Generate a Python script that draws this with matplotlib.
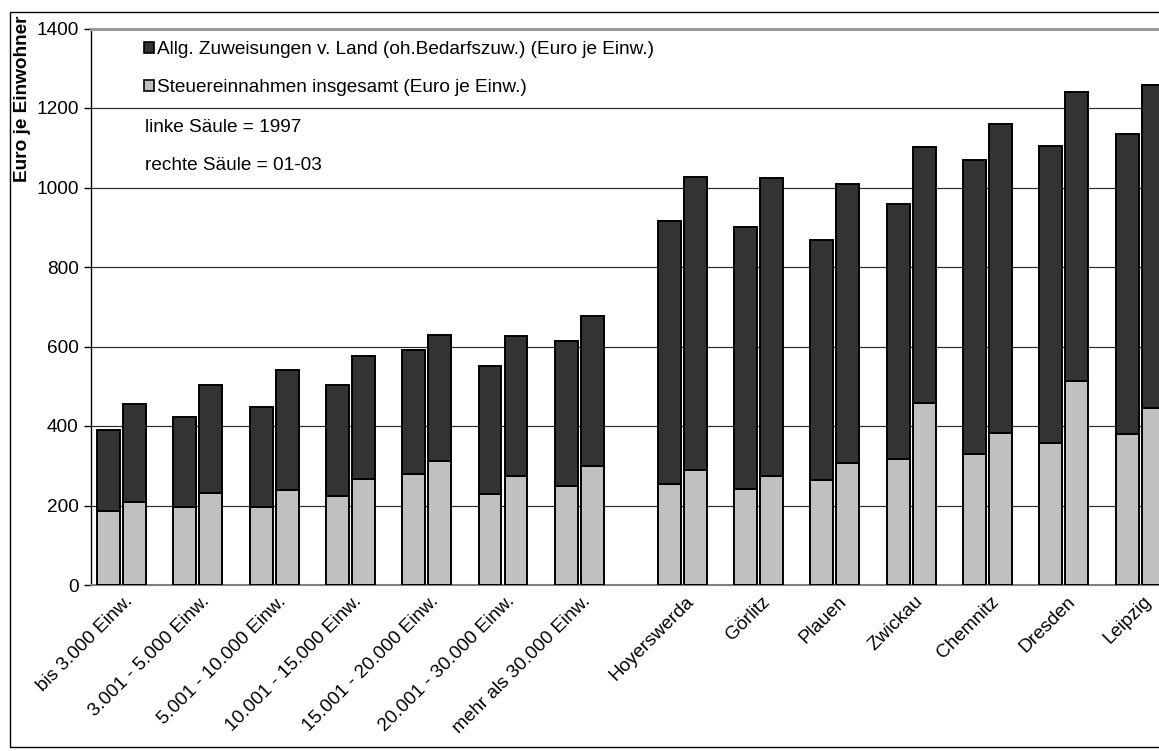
import numpy as np
import matplotlib
matplotlib.use("Agg")
import matplotlib.pyplot as plt
from matplotlib.patches import Patch, Rectangle
from matplotlib.transforms import ScaledTranslation

plt.rcParams["font.family"] = ["Liberation Sans", "DejaVu Sans"]

categories = ["bis 3.000 Einw.", "3.001 - 5.000 Einw.", "5.001 - 10.000 Einw.",
              "10.001 - 15.000 Einw.", "15.001 - 20.000 Einw.", "20.001 - 30.000 Einw.",
              "mehr als 30.000 Einw.", "Hoyerswerda", "Görlitz", "Plauen", "Zwickau",
              "Chemnitz", "Dresden", "Leipzig"]

# Euro je Einwohner, linke Säule = 1997
steuer_1997 = [187, 197, 195, 224, 278, 229, 249, 253, 241, 263, 318, 330, 358, 379]
zuweis_1997 = [204, 225, 253, 278, 313, 322, 366, 663, 660, 604, 641, 740, 746, 756]
# Euro je Einwohner, rechte Säule = 01-03
steuer_0103 = [209, 231, 238, 266, 312, 275, 300, 289, 274, 308, 458, 383, 512, 445]
zuweis_0103 = [246, 271, 302, 310, 318, 352, 377, 738, 750, 700, 644, 777, 728, 814]

label_zuweis = "Allg. Zuweisungen v. Land (oh.Bedarfszuw.) (Euro je Einw.)"
label_steuer = "Steuereinnahmen insgesamt (Euro je Einw.)"

DARK = "#333333"
LIGHT = "#c0c0c0"
FS = 13.7

W, H = 1159, 751
fig = plt.figure(figsize=(W / 100, H / 100), dpi=100)
fig.patch.set_facecolor("white")

# plot area in pixels (extends slightly past the right edge)
left_px, right_px, top_px, bottom_px = 91, 1186, 28.5, 585
ax = fig.add_axes([left_px / W, (H - bottom_px) / H,
                   (right_px - left_px) / W, (bottom_px - top_px) / H])

# size classes, then a wider gap before the cities
x = np.r_[np.arange(7), np.arange(7) + 7.35]
step_px = 76.3
first_px = 121.5
ax.set_xlim((left_px - first_px) / step_px, (right_px - first_px) / step_px)
ax.set_ylim(0, 1400)

w = 0.30
off = 0.17
edge = dict(edgecolor="black", linewidth=1.4)
ax.bar(x - off, steuer_1997, w, color=LIGHT, **edge, zorder=3)
ax.bar(x - off, zuweis_1997, w, bottom=steuer_1997, color=DARK, **edge, zorder=3)
ax.bar(x + off, steuer_0103, w, color=LIGHT, **edge, zorder=3)
ax.bar(x + off, zuweis_0103, w, bottom=steuer_0103, color=DARK, **edge, zorder=3)

# gridlines and frame
ax.set_yticks(np.arange(0, 1401, 200))
ax.yaxis.grid(True, color="#2a2a2a", linewidth=0.85, zorder=0)
ax.set_axisbelow(True)
ax.spines["right"].set_visible(False)
ax.spines["top"].set_color("#999999")
ax.spines["top"].set_linewidth(2.2)
ax.spines["bottom"].set_color("#808080")
ax.spines["bottom"].set_linewidth(1.5)
ax.spines["left"].set_color("black")
ax.spines["left"].set_linewidth(1.0)

ax.tick_params(axis="y", direction="out", length=5, width=1, pad=4,
               labelsize=FS, colors="black")
ax.tick_params(axis="x", length=0, pad=10, labelsize=FS)

ax.set_xticks(x)
ax.set_xticklabels(categories, rotation=45, ha="right", va="center",
                   rotation_mode="anchor")
shift = ScaledTranslation(9 / 100, 0, fig.dpi_scale_trans)
for lab in ax.get_xticklabels():
    lab.set_transform(lab.get_transform() + shift)

# axis title at the top left
fig.text(23 / W, 1 - 15 / H, "Euro je Einwohner", rotation=90, ha="center",
         va="top", fontsize=FS, fontweight="bold")

# legend and notes
handles = [Patch(facecolor=DARK, edgecolor="black", linewidth=1.2),
           Patch(facecolor=LIGHT, edgecolor="black", linewidth=1.2)]
ax.legend(handles, [label_zuweis, label_steuer], loc="upper left",
          bbox_to_anchor=(144 / W, 1 - 41 / H), bbox_transform=fig.transFigure,
          frameon=False, fontsize=FS, handlelength=0.55, handleheight=0.55,
          handletextpad=0.15, labelspacing=1.12, borderpad=0, borderaxespad=0)
fig.text(145 / W, 1 - 127 / H, "linke Säule = 1997", ha="left", va="center",
         fontsize=FS)
fig.text(145 / W, 1 - 165 / H, "rechte Säule = 01-03", ha="left", va="center",
         fontsize=FS)

# chart area border
fig.add_artist(Rectangle((10 / W, (H - 747) / H), (1180 - 10) / W, (747 - 12) / H,
                         transform=fig.transFigure, fill=False,
                         edgecolor="black", linewidth=1.0))

fig.savefig("out.png", dpi=100)
